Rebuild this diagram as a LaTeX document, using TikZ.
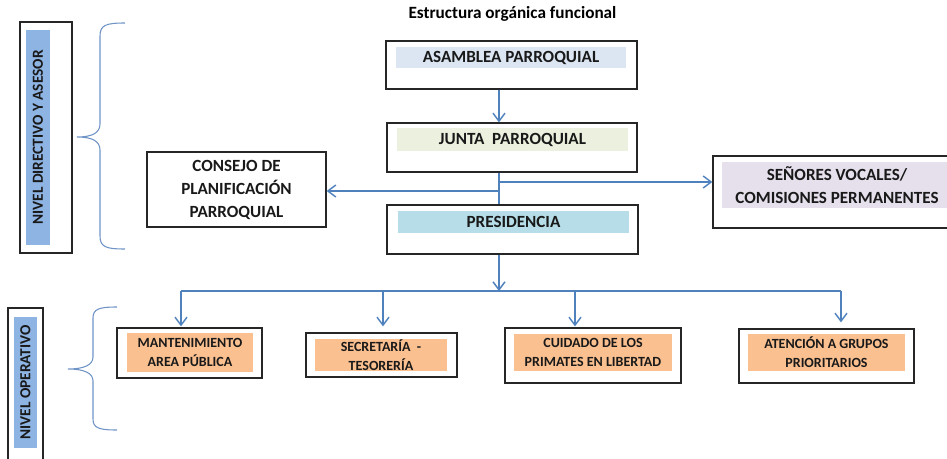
\documentclass[tikz,border=0pt]{standalone}
\usepackage{fontspec}
\setmainfont{Carlito}
\usetikzlibrary{arrows.meta,calc}
\definecolor{lineblue}{HTML}{4F81BD}
\definecolor{bracec}{HTML}{6F93C6}
\definecolor{lblblue}{HTML}{8EB4E3}
\definecolor{asamfill}{HTML}{DCE6F2}
\definecolor{juntafill}{HTML}{EBF1DE}
\definecolor{presfill}{HTML}{B7DEE8}
\definecolor{vocfill}{HTML}{E5E0EC}
\definecolor{opfill}{HTML}{FAC090}
\begin{document}
\begin{tikzpicture}[x=0.75pt,y=-0.75pt,
  outer/.style={draw=black!85,line width=0.9pt,inner sep=0pt},
  bigtxt/.style={inner sep=0pt,align=center,text=black!90,font=\bfseries\fontsize{12.8}{17.25}\selectfont},
  smalltxt/.style={inner sep=0pt,align=center,text=black!90,fill=opfill,font=\bfseries\fontsize{10.5}{14.25}\selectfont},
  lbltxt/.style={inner sep=0pt,align=center,text=black!90,fill=lblblue,rotate=90,font=\bfseries\fontsize{11.5}{14}\selectfont},
  conn/.style={draw=lineblue,line width=1.1pt},
  arr/.style={conn,-{Straight Barb[length=6pt,width=9pt,line width=1.1pt]}},
  bracepath/.style={draw=bracec,line width=0.8pt}]
\useasboundingbox (0,0) rectangle (947,458);
\clip (0,0) rectangle (947,458);

% title
\node[font=\bfseries\fontsize{12.9}{14}\selectfont] (title) at (512.5,14) {Estructura orgánica funcional};

% level labels
\node[outer,minimum width=52*0.75pt,minimum height=231*0.75pt] (lab1) at (46,137.5) {};
\node[lbltxt,minimum width=215*0.75pt,minimum height=24*0.75pt] (lab1t) at (38,137.5) {NIVEL DIRECTIVO Y ASESOR};
\node[outer,minimum width=35*0.75pt,minimum height=160*0.75pt] (lab2) at (25.5,388) {};
\node[lbltxt,minimum width=131*0.75pt,minimum height=23*0.75pt] (lab2t) at (25.5,382.5) {NIVEL OPERATIVO};

% braces
\draw[bracepath] (125,23) .. controls (106,23) and (100,25) .. (100,36) -- (100,124)
  .. controls (100,133) and (92,137) .. (77,137) .. controls (92,137) and (100,141) .. (100,150)
  -- (100,236) .. controls (100,247) and (106,249) .. (125,249);
\draw[bracepath] (117,307) .. controls (99,307) and (93,309) .. (93,318) -- (93,357)
  .. controls (93,365) and (84,369) .. (68,369) .. controls (84,369) and (93,373) .. (93,381)
  -- (93,419) .. controls (93,428) and (99,430) .. (117,430);

% top boxes
\node[outer,minimum width=251*0.75pt,minimum height=48*0.75pt] (asam) at (511.5,65) {};
\node[bigtxt,fill=asamfill,minimum width=230*0.75pt,minimum height=21*0.75pt] (asamt) at (511,57.5) {ASAMBLEA PARROQUIAL};
\node[outer,minimum width=250*0.75pt,minimum height=49*0.75pt] (junta) at (512,147.5) {};
\node[bigtxt,fill=juntafill,minimum width=231*0.75pt,minimum height=23*0.75pt] (juntat) at (512.5,139.5) {JUNTA\ \ PARROQUIAL};
\node[outer,minimum width=251*0.75pt,minimum height=49*0.75pt] (pres) at (512.5,229.5) {};
\node[bigtxt,fill=presfill,minimum width=231*0.75pt,minimum height=22*0.75pt] (prest) at (513.5,222) {PRESIDENCIA};
\node[outer,minimum width=179*0.75pt,minimum height=75*0.75pt] (cons) at (236.5,189.5) {};
\node[bigtxt] (const) at (236.5,189.5) {CONSEJO DE\\PLANIFICACIÓN\\PARROQUIAL};
\node[outer,minimum width=247*0.75pt,minimum height=72*0.75pt] (voc) at (836.5,192) {};
\node[bigtxt,fill=vocfill,minimum width=230*0.75pt,minimum height=46*0.75pt] (voct) at (837,185) {SEÑORES VOCALES/\\COMISIONES PERMANENTES};

% bottom boxes
\node[outer,minimum width=145*0.75pt,minimum height=50*0.75pt] (mant) at (189.5,353) {};
\node[smalltxt,minimum width=126*0.75pt,minimum height=39*0.75pt] (mantt) at (190,352.5) {MANTENIMIENTO\\AREA PÚBLICA};
\node[outer,minimum width=151*0.75pt,minimum height=44*0.75pt] (secr) at (381.5,355) {};
\node[smalltxt,minimum width=132*0.75pt,minimum height=32*0.75pt] (secrt) at (381,355) {SECRETARÍA\ \ -\\TESORERÍA};
\node[outer,minimum width=176*0.75pt,minimum height=55*0.75pt] (cuid) at (593,355.5) {};
\node[smalltxt,minimum width=158*0.75pt,minimum height=37*0.75pt] (cuidt) at (593,352.5) {CUIDADO DE LOS\\PRIMATES EN LIBERTAD};
\node[outer,minimum width=175*0.75pt,minimum height=54*0.75pt] (aten) at (826.5,356) {};
\node[smalltxt,minimum width=157*0.75pt,minimum height=37*0.75pt] (atent) at (826.5,352.5) {ATENCIÓN A GRUPOS\\PRIORITARIOS};

% connectors
\coordinate (trunk) at (499,0);
\coordinate (jr) at (499,182);
\coordinate (jl) at (499,191);
\coordinate (bus) at (499,291);
\coordinate (d1) at (181,291);
\coordinate (d2) at (383,291);
\coordinate (d3) at (575,291);
\coordinate (d4) at (841,291);

\draw[arr] (asam.south -| trunk) -- (junta.north -| trunk);
\draw[conn] (junta.south -| trunk) -- (pres.north -| trunk);
\draw[arr] (jr) -- (jr -| voc.west);
\draw[arr] (jl) -- (jl -| cons.east);
\draw[arr] (pres.south -| trunk) -- (bus);
\draw[conn] (d1) -- (d4);
\draw[arr,shorten >=0.75pt] (d1) -- (d1 |- mant.north);
\draw[arr,shorten >=4.5pt] (d2) -- (d2 |- secr.north);
\draw[arr,shorten >=0.75pt] (d3) -- (d3 |- cuid.north);
\draw[arr,shorten >=4.5pt] (d4) -- (d4 |- aten.north);
\end{tikzpicture}
\end{document}
